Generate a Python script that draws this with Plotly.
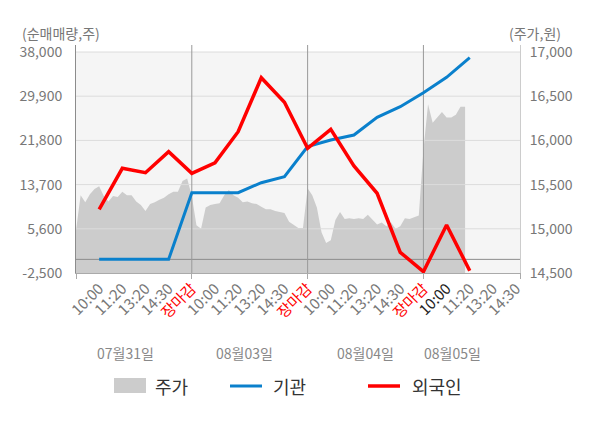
import plotly.graph_objects as go

# x축: 하루 5칸(10:00 ~ 장마감), 마지막 날은 14:30까지
day_labels = ["07월31일", "08월03일", "08월04일", "08월05일"]
tick_labels = ["10:00", "11:20", "13:20", "14:30", "장마감"] * 3 + ["10:00", "11:20", "13:20", "14:30"]

# 순매매량(주) - 10:00(1일차)부터 11:20(4일차)까지
foreign = [9170, 16690, 15880, 19730, 15770, 17710, 23390, 33290, 28780,
           20350, 23830, 17110, 12110, 1290, -2260, 6300, -2080]
institution = [0, 0, 0, 0, 12220, 12220, 12220, 14050, 15150,
               20650, 21870, 22790, 26030, 27980, 30540, 33360, 36960]

# 주가(원) - 0.2칸 간격
price_step = 0.2
price = [14980, 15380, 15300, 15390, 15450, 15480, 15370, 15310, 15370, 15360,
         15420, 15380, 15380, 15310, 15270, 15200, 15280, 15300, 15330, 15350,
         15390, 15420, 15420, 15540, 15570, 15370, 15040, 15000, 15240, 15270,
         15280, 15290, 15380, 15440, 15380, 15350, 15300, 15310, 15290, 15280,
         15250, 15220, 15220, 15200, 15190, 15180, 15080, 15040, 15010, 15010,
         15460, 15380, 15240, 14960, 14840, 14870, 15100, 15190, 15110, 15120,
         15110, 15120, 15110, 15160, 15110, 15050, 15070, 15030, 15070, 15000,
         15030, 15120, 15110, 15130, 15150, 15890, 16410, 16200, 16260, 16320,
         16260, 16260, 16290, 16380, 16380]

left_ticks = [-2500, 5600, 13700, 21800, 29900, 38000]
right_ticks = [14500, 15000, 15500, 16000, 16500, 17000]

FONT = "Noto Sans CJK KR"
# 페이지 body 기본 여백(8px) 만큼 줄여서 그림
OFF = 8
W, H = 600 - OFF, 428 - OFF
PL, PR, PT, PB = 76, 520, 45, 273          # 페이지 기준 플롯 영역
PW, PH = PR - PL, PB - PT
X_MAX = 19.17
Y_MAX = 38000 + 7 * (38000 - (-2500)) / 221   # 흰 여백 7px
Y2_MAX = 17000 + 7 * (17000 - 14500) / 221

def px(x):
    return (x - PL) / PW

def py(y):
    return (PB - y) / PH

line_x = list(range(1, len(foreign) + 1))
price_x = [i * price_step for i in range(len(price))]
day_edges = [5, 10, 15]

fig = go.Figure()

# 주가: 기본 y축(오른쪽) -> 가장 아래에 그려짐
fig.add_trace(go.Scatter(
    x=price_x, y=price, yaxis="y", mode="lines", fill="tozeroy",
    line=dict(width=0, color="#cccccc"), fillcolor="#cccccc",
    name="주가", showlegend=False, hoverinfo="skip",
))

# 그리드 (주가 영역 위에 보이도록 trace로)
gx, gy = [], []
for v in left_ticks[1:]:
    gx += [0, X_MAX, None]
    gy += [v, v, None]
fig.add_trace(go.Scatter(x=gx, y=gy, yaxis="y2", mode="lines", line=dict(color="#dcdcdc", width=1),
                         showlegend=False, hoverinfo="skip"))
fig.add_trace(go.Scatter(x=[0, X_MAX], y=[0, 0], yaxis="y2", mode="lines",
                         line=dict(color="#8c8c8c", width=1), showlegend=False, hoverinfo="skip"))
dx, dy = [], []
for e in day_edges:
    dx += [e, e, None]
    dy += [-2500, Y_MAX, None]
fig.add_trace(go.Scatter(x=dx, y=dy, yaxis="y2", mode="lines", line=dict(color="#999999", width=1),
                         showlegend=False, hoverinfo="skip"))

fig.add_trace(go.Scatter(
    x=line_x, y=institution, yaxis="y2", mode="lines", name="기관",
    line=dict(color="#0a80cc", width=3), showlegend=False,
))
fig.add_trace(go.Scatter(
    x=line_x, y=foreign, yaxis="y2", mode="lines", name="외국인",
    line=dict(color="#ff0000", width=3.5), showlegend=False,
))

ticktext = []
for i, t in enumerate(tick_labels):
    if t == "장마감":
        ticktext.append('<span style="color:#ff0000">%s</span>' % t)
    elif i == 15:
        ticktext.append('<span style="color:#222222">%s</span>' % t)
    else:
        ticktext.append(t)

fig.update_layout(
    width=W, height=H,
    margin=dict(l=PL - OFF, r=W - (PR - OFF), t=PT - OFF, b=H - (PB - OFF)),
    paper_bgcolor="white", plot_bgcolor="white",
    font=dict(family=FONT, size=14, color="#777777"),
    showlegend=False,
    xaxis=dict(
        range=[0, X_MAX], tickmode="array", automargin=False,
        tickvals=list(range(1, len(tick_labels) + 1)), ticktext=ticktext,
        tickangle=-45, ticks="", showgrid=False, zeroline=False,
        showline=True, linecolor="#aaaaaa", linewidth=1,
        tickfont=dict(size=15, color="#777777"),
        minor=dict(tickmode="array", tickvals=[0] + day_edges + [X_MAX],
                   ticks="outside", ticklen=5, tickcolor="#aaaaaa", showgrid=False),
    ),
    yaxis=dict(
        range=[14500, Y2_MAX], side="right", tickmode="array", automargin=False,
        tickvals=right_ticks, ticktext=[f"{v:,}" for v in right_ticks],
        showgrid=False, zeroline=False, showline=True, linecolor="#cccccc",
        ticks="", ticklabelstandoff=6, tickfont=dict(size=14, color="#777777"),
    ),
    yaxis2=dict(
        range=[-2500, Y_MAX], overlaying="y", side="left", tickmode="array", automargin=False,
        tickvals=left_ticks, ticktext=[f"{v:,}" for v in left_ticks],
        showgrid=False, zeroline=False, showline=True, linecolor="#8c8c8c",
        ticks="", ticklabelstandoff=10, tickfont=dict(size=14, color="#777777"),
    ),
)

# 옅은 회색 배경 (38,000 ~ -2,500)
fig.add_shape(type="rect", xref="x", yref="y2", x0=0, x1=X_MAX, y0=-2500, y1=38000,
              fillcolor="#f5f5f5", line=dict(width=0), layer="below")

# 축 제목
for txt, cx in [("(순매매량,주)", 61), ("(주가,원)", 535)]:
    fig.add_annotation(text=txt, xref="paper", yref="paper", x=px(cx), y=py(33),
                       xanchor="center", yanchor="middle", showarrow=False,
                       font=dict(size=14, color="#777777"))

# 날짜
for lbl, cx in zip(day_labels, [125, 244, 365, 452]):
    fig.add_annotation(text=lbl, xref="paper", yref="paper", x=px(cx), y=py(353),
                       xanchor="center", yanchor="middle", showarrow=False,
                       font=dict(size=14, color="#888888"))

# 범례
ly = py(386)
fig.add_shape(type="rect", xref="paper", yref="paper", x0=px(114), x1=px(146),
              y0=py(393), y1=py(378), fillcolor="#cccccc", line=dict(width=0))
fig.add_shape(type="line", xref="paper", yref="paper", x0=px(230), x1=px(262),
              y0=ly, y1=ly, line=dict(color="#0a80cc", width=3))
fig.add_shape(type="line", xref="paper", yref="paper", x0=px(368), x1=px(400),
              y0=ly, y1=ly, line=dict(color="#ff0000", width=3.5))
for name, lx in [("주가", 153), ("기관", 271), ("외국인", 410)]:
    fig.add_annotation(text=name, xref="paper", yref="paper", x=px(lx), y=ly,
                       xanchor="left", yanchor="middle", showarrow=False,
                       font=dict(size=18, color="#333333"))

fig.write_html("out.html")
